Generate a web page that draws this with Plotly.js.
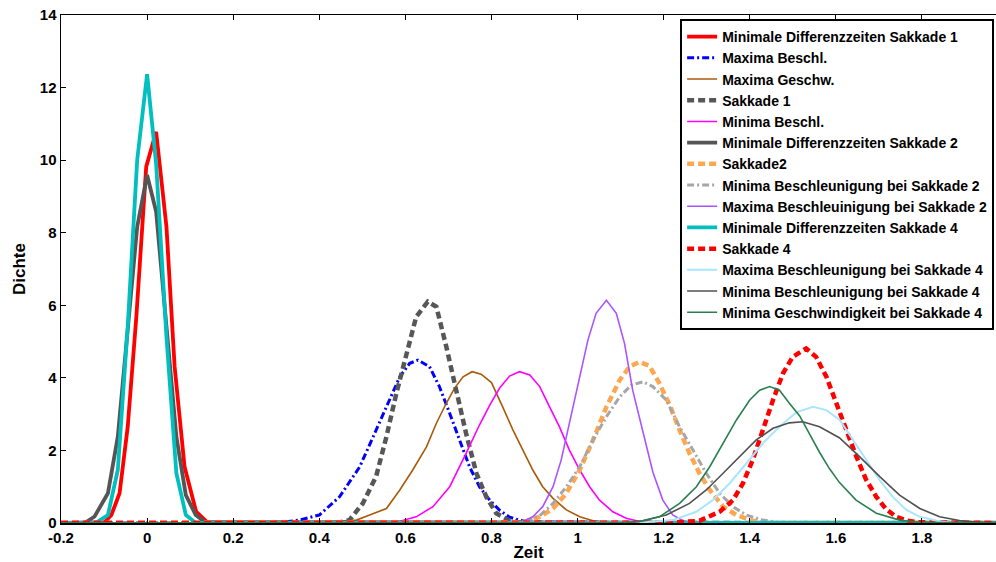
<!DOCTYPE html>
<html>
<head>
<meta charset="utf-8">
<script src="https://cdn.plot.ly/plotly-3.0.1.min.js"></script>
<style>html,body{margin:0;padding:0;background:#fff;}#chart{width:996px;height:562px;}</style>
</head>
<body>
<div id="chart"></div>
<script>
// ---- data ----
const names = [
  "Minimale Differenzzeiten Sakkade 1",
  "Maxima Beschl.",
  "Maxima Geschw.",
  "Sakkade 1",
  "Minima Beschl.",
  "Minimale Differenzzeiten Sakkade 2",
  "Sakkade2",
  "Minima Beschleunigung bei Sakkade 2",
  "Maxima Beschleuinigung bei Sakkade 2",
  "Minimale Differenzzeiten Sakkade 4",
  "Sakkade 4",
  "Maxima Beschleunigung bei Sakkade 4",
  "Minima Beschleunigung bei Sakkade 4",
  "Minima Geschwindigkeit bei Sakkade 4"
];

const xMinDiff1 = [-0.2, -0.12, -0.099, -0.083, -0.064, -0.045, -0.025, -0.002, 0.021, 0.045, 0.064, 0.087, 0.114, 0.14, 1.98];
const yMinDiff1 = [0, 0, 0.02, 0.22, 0.82, 2.65, 5.68, 9.82, 10.78, 8.16, 4.3, 1.55, 0.31, 0.02, 0];

const xMaxBeschl = [-0.2, 0.30, 0.354, 0.40, 0.447, 0.494, 0.532, 0.563, 0.587, 0.61, 0.629, 0.656, 0.679, 0.703, 0.726, 0.749, 0.772, 0.796, 0.819, 0.842, 0.865, 0.89, 1.98];
const yMaxBeschl = [0, 0, 0.08, 0.22, 0.72, 1.55, 2.56, 3.39, 4.03, 4.40, 4.49, 4.31, 3.76, 3.02, 2.29, 1.55, 1.0, 0.63, 0.35, 0.16, 0.08, 0.02, 0];

const xMaxGeschw = [-0.2, 0.40, 0.431, 0.486, 0.517, 0.556, 0.587, 0.617, 0.649, 0.672, 0.695, 0.714, 0.734, 0.755, 0.776, 0.80, 0.826, 0.85, 0.873, 0.896, 0.919, 0.943, 0.974, 1.005, 1.036, 1.07, 1.98];
const yMaxGeschw = [0, 0, 0.04, 0.08, 0.22, 0.40, 0.91, 1.46, 2.10, 2.75, 3.30, 3.71, 4.03, 4.17, 4.10, 3.87, 3.20, 2.56, 2.01, 1.46, 1.0, 0.68, 0.36, 0.17, 0.06, 0.01, 0];

const xSakk1 = [-0.2, 0.44, 0.47, 0.501, 0.532, 0.556, 0.579, 0.602, 0.625, 0.652, 0.672, 0.695, 0.718, 0.741, 0.765, 0.788, 0.811, 0.84, 0.87, 1.98];
const ySakk1 = [0, 0, 0.08, 0.54, 1.28, 2.38, 3.57, 4.67, 5.68, 6.10, 5.96, 4.86, 3.66, 2.47, 1.37, 0.72, 0.27, 0.08, 0, 0];

const xMinBeschl = [-0.2, 0.55, 0.587, 0.625, 0.664, 0.703, 0.741, 0.772, 0.796, 0.819, 0.842, 0.865, 0.889, 0.912, 0.935, 0.958, 0.981, 1.005, 1.028, 1.051, 1.082, 1.113, 1.144, 1.18, 1.98];
const yMinBeschl = [0, 0, 0.05, 0.17, 0.45, 1.0, 1.92, 2.7, 3.25, 3.72, 4.05, 4.17, 4.08, 3.76, 3.2, 2.65, 2.01, 1.46, 1.0, 0.63, 0.31, 0.13, 0.04, 0.01, 0];

const xMinDiff2 = [-0.2, -0.145, -0.122, -0.091, -0.068, -0.045, -0.023, 0.0, 0.021, 0.045, 0.068, 0.09, 0.113, 0.135, 1.98];
const yMinDiff2 = [0, 0, 0.18, 0.82, 2.38, 5.23, 8.16, 9.59, 8.58, 5.41, 2.38, 0.77, 0.22, 0.02, 0];

const xSakk2 = [-0.2, 0.85, 0.873, 0.912, 0.943, 0.974, 1.005, 1.036, 1.067, 1.098, 1.121, 1.144, 1.167, 1.19, 1.214, 1.237, 1.26, 1.283, 1.307, 1.338, 1.369, 1.407, 1.44, 1.98];
const ySakk2 = [0, 0, 0.02, 0.17, 0.40, 0.82, 1.46, 2.29, 3.20, 3.94, 4.31, 4.44, 4.33, 3.85, 3.25, 2.56, 1.92, 1.37, 0.91, 0.45, 0.22, 0.06, 0.01, 0];

const xMinBS2 = [-0.2, 0.85, 0.873, 0.912, 0.943, 0.974, 1.005, 1.036, 1.067, 1.098, 1.125, 1.152, 1.175, 1.206, 1.237, 1.268, 1.299, 1.33, 1.361, 1.392, 1.43, 1.47, 1.98];
const yMinBS2 = [0, 0, 0.03, 0.2, 0.54, 1.0, 1.55, 2.29, 2.93, 3.48, 3.80, 3.89, 3.76, 3.39, 2.65, 2.01, 1.37, 0.82, 0.45, 0.22, 0.08, 0.01, 0];

const xMaxBS2 = [-0.2, 0.85, 0.873, 0.896, 0.919, 0.943, 0.962, 0.981, 1.005, 1.024, 1.043, 1.067, 1.09, 1.109, 1.128, 1.152, 1.175, 1.198, 1.221, 1.245, 1.27, 1.98];
const yMaxBS2 = [0, 0, 0.04, 0.17, 0.45, 1.0, 1.74, 2.75, 3.94, 5.04, 5.78, 6.14, 5.78, 4.95, 3.66, 2.5, 1.4, 0.63, 0.22, 0.06, 0.01, 0];

const xMinDiff4 = [-0.2, -0.12, -0.091, -0.068, -0.045, -0.023, 0.0, 0.021, 0.045, 0.068, 0.09, 0.113, 1.98];
const yMinDiff4 = [0, 0, 0.22, 1.46, 5.41, 10.0, 12.37, 9.9, 5.13, 1.37, 0.22, 0, 0];

const xSakk4 = [-0.2, 1.2, 1.221, 1.283, 1.33, 1.361, 1.384, 1.407, 1.43, 1.454, 1.477, 1.50, 1.531, 1.554, 1.578, 1.601, 1.624, 1.647, 1.67, 1.694, 1.717, 1.74, 1.764, 1.79, 1.98];
const ySakk4 = [0, 0, 0.01, 0.06, 0.31, 0.63, 1.09, 1.74, 2.56, 3.39, 4.12, 4.58, 4.81, 4.58, 4.03, 3.3, 2.6, 1.85, 1.2, 0.72, 0.38, 0.17, 0.07, 0.02, 0];

const xMaxBS4 = [-0.2, 1.1, 1.144, 1.221, 1.276, 1.314, 1.353, 1.392, 1.43, 1.469, 1.508, 1.547, 1.578, 1.609, 1.64, 1.671, 1.702, 1.732, 1.764, 1.795, 1.841, 1.88, 1.98];
const yMaxBS4 = [0, 0, 0.01, 0.08, 0.31, 0.63, 1.09, 1.64, 2.19, 2.65, 3.05, 3.20, 3.11, 2.84, 2.29, 1.74, 1.18, 0.72, 0.36, 0.17, 0.04, 0.0, 0];

const xMinBS4 = [-0.2, 1.1, 1.144, 1.206, 1.26, 1.299, 1.338, 1.376, 1.415, 1.454, 1.492, 1.523, 1.562, 1.608, 1.655, 1.702, 1.748, 1.795, 1.841, 1.887, 1.93, 1.98];
const yMinBS4 = [0, 0, 0.04, 0.22, 0.54, 0.91, 1.37, 1.83, 2.29, 2.61, 2.76, 2.79, 2.65, 2.35, 1.83, 1.28, 0.77, 0.40, 0.17, 0.07, 0.02, 0];

const xMinGS4 = [-0.2, 1.1, 1.144, 1.19, 1.237, 1.276, 1.307, 1.338, 1.369, 1.40, 1.423, 1.446, 1.469, 1.492, 1.516, 1.539, 1.562, 1.585, 1.608, 1.647, 1.694, 1.748, 1.79, 1.98];
const yMinGS4 = [0, 0, 0.04, 0.17, 0.54, 1.0, 1.55, 2.19, 2.84, 3.39, 3.66, 3.76, 3.66, 3.30, 2.95, 2.45, 1.95, 1.5, 1.12, 0.63, 0.27, 0.08, 0.02, 0];

const xTickVals = [-0.2, 0, 0.2, 0.4, 0.6, 0.8, 1, 1.2, 1.4, 1.6, 1.8];
const xTickText = ["-0.2", "0", "0.2", "0.4", "0.6", "0.8", "1", "1.2", "1.4", "1.6", "1.8"];
const yTickVals = [0, 2, 4, 6, 8, 10, 12, 14];
const yTickText = ["0", "2", "4", "6", "8", "10", "12", "14"];

// ---- styles ----
const xs = [xMinDiff1, xMaxBeschl, xMaxGeschw, xSakk1, xMinBeschl, xMinDiff2, xSakk2, xMinBS2, xMaxBS2, xMinDiff4, xSakk4, xMaxBS4, xMinBS4, xMinGS4];
const ys = [yMinDiff1, yMaxBeschl, yMaxGeschw, ySakk1, yMinBeschl, yMinDiff2, ySakk2, yMinBS2, yMaxBS2, yMinDiff4, ySakk4, yMaxBS4, yMinBS4, yMinGS4];
const styles = [
  {color: "#ff0000", width: 3.8, dash: "solid"},
  {color: "#0000ff", width: 3, dash: "7px,3px,2px,3px"},
  {color: "#a85a08", width: 1.6, dash: "solid"},
  {color: "#575757", width: 4.5, dash: "7px,4px"},
  {color: "#ff00ff", width: 1.6, dash: "solid"},
  {color: "#555555", width: 3.8, dash: "solid"},
  {color: "#ffa650", width: 4.5, dash: "7px,4px"},
  {color: "#a6a6a6", width: 3, dash: "7px,3px,2px,3px"},
  {color: "#a855ff", width: 1.6, dash: "solid"},
  {color: "#00bfbf", width: 3.8, dash: "solid"},
  {color: "#ff0000", width: 4.5, dash: "7px,4px"},
  {color: "#a8e6ff", width: 2, dash: "solid"},
  {color: "#505050", width: 1.6, dash: "solid"},
  {color: "#2a7f50", width: 1.6, dash: "solid"}
];

const traces = names.map((n, i) => ({
  type: "scatter", mode: "lines", name: n,
  x: xs[i], y: ys[i],
  line: {color: styles[i].color, width: styles[i].width, dash: styles[i].dash}
}));

const fontFam = "Liberation Sans, Arial, sans-serif";
const layout = {
  width: 996, height: 562,
  margin: {l: 61, r: 0, t: 15, b: 39},
  paper_bgcolor: "#ffffff", plot_bgcolor: "#ffffff",
  showlegend: true,
  font: {family: fontFam, color: "#000000"},
  xaxis: {
    range: [-0.2, 1.972], tickmode: "array", tickvals: xTickVals, ticktext: xTickText,
    ticks: "inside", ticklen: 5, tickwidth: 1, tickcolor: "#000",
    showline: true, linecolor: "#000", linewidth: 1.5, mirror: "ticks",
    showgrid: false, zeroline: false,
    tickfont: {size: 15, family: fontFam, weight: "bold", color: "#000"},
    title: {text: "Zeit", font: {size: 17, family: fontFam, weight: "bold", color: "#000"}, standoff: 4}
  },
  yaxis: {
    range: [0, 14], tickmode: "array", tickvals: yTickVals, ticktext: yTickText,
    ticks: "inside", ticklen: 5, tickwidth: 1, tickcolor: "#000",
    showline: true, linecolor: "#000", linewidth: 1.5, mirror: false,
    showgrid: false, zeroline: false,
    tickfont: {size: 15, family: fontFam, weight: "bold", color: "#000"},
    title: {text: "Dichte", font: {size: 17, family: fontFam, weight: "bold", color: "#000"}, standoff: 10}
  },
  legend: {
    x: 0.998, xanchor: "right", y: 0.992, yanchor: "top",
    bgcolor: "#ffffff", bordercolor: "#000000", borderwidth: 2,
    font: {size: 14, family: fontFam, weight: "bold", color: "#000"},
    tracegroupgap: 0
  }
};

Plotly.newPlot("chart", traces, layout, {staticPlot: true, displayModeBar: false});
</script>
</body>
</html>
